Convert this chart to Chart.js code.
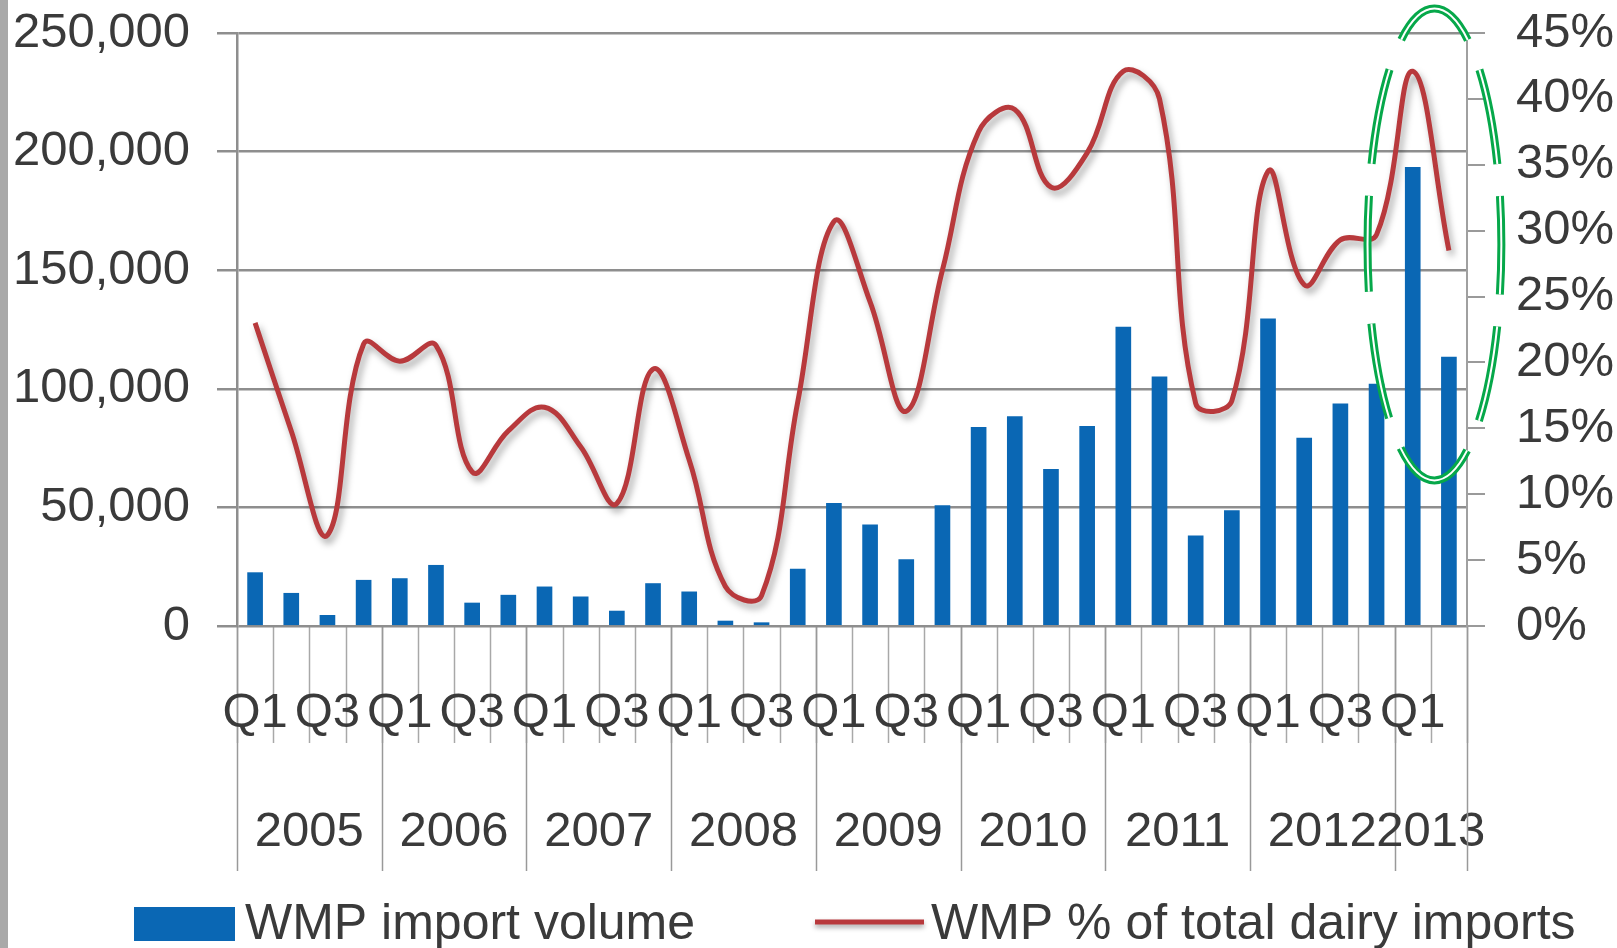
<!DOCTYPE html>
<html lang="en">
<head>
    <meta charset="UTF-8">
    <title>WMP imports</title>
    <script src="https://cdn.jsdelivr.net/npm/chart.js"></script>
    <style>
        html, body { margin: 0; padding: 0; background: #fff; }
        canvas { display: block; }
    </style>
</head>
<body>
    <canvas id="wmpChart" width="1617" height="948"></canvas>

    <script>
        // quarters 2005 Q1 .. 2013 Q2
        var years = ['2005', '2006', '2007', '2008', '2009', '2010', '2011', '2012', '2013'];
        var quartersPerYear = [4, 4, 4, 4, 4, 4, 4, 4, 2];
        var quarterLabels = [
            'Q1', 'Q2', 'Q3', 'Q4', 'Q1', 'Q2', 'Q3', 'Q4', 'Q1', 'Q2', 'Q3', 'Q4',
            'Q1', 'Q2', 'Q3', 'Q4', 'Q1', 'Q2', 'Q3', 'Q4', 'Q1', 'Q2', 'Q3', 'Q4',
            'Q1', 'Q2', 'Q3', 'Q4', 'Q1', 'Q2', 'Q3', 'Q4', 'Q1', 'Q2'
        ];
        // WMP import volume (left axis)
        var importVolume = [
            22500, 13800, 4500, 19300, 20000, 25600, 9700, 13000,
            16500, 12300, 6300, 17900, 14400, 2100, 1400, 24000,
            51700, 42600, 28000, 50800, 83800, 88300, 66000, 84200,
            126000, 105000, 38000, 48700, 129500, 79200, 93700, 102000,
            193400, 113400
        ];
        // WMP % of total dairy imports (right axis)
        var wmpShare = [
            23.0, 14.8, 6.9, 21.4, 20.1, 21.3, 11.7, 14.8,
            16.6, 13.6, 9.3, 19.5, 12.6, 3.0, 2.3, 17.0,
            30.7, 24.6, 16.3, 27.0, 37.5, 39.2, 33.3, 35.9,
            42.1, 40.0, 16.9, 17.1, 34.5, 25.9, 29.3, 29.7,
            42.1, 28.5
        ];
        var volumeMax = 250000, volumeStep = 50000;
        var shareMax = 45, shareStep = 5;
        var legendLabels = ['WMP import volume', 'WMP % of total dairy imports'];

        var FONT = 'Liberation Sans, Arial, sans-serif';
        var TEXT = '#3a3a3a';
        var BLUE = '#0a67b4';
        var RED = '#b8393c';

        // shadow under the red line
        var lineShadow = {
            id: 'lineShadow',
            beforeDatasetDraw: function (chart, args) {
                if (args.index !== 1) return;
                var ctx = chart.ctx;
                ctx.save();
                ctx.shadowColor = 'rgba(0,0,0,0.35)';
                ctx.shadowBlur = 7;
                ctx.shadowOffsetX = 3;
                ctx.shadowOffsetY = 5;
            },
            afterDatasetDraw: function (chart, args) {
                if (args.index !== 1) return;
                chart.ctx.restore();
            }
        };

        // background, quarter / year separators under the axis
        var axisExtras = {
            id: 'axisExtras',
            beforeDraw: function (chart) {
                var ctx = chart.ctx;
                var x = chart.scales.x;
                var area = chart.chartArea;
                ctx.save();
                ctx.fillStyle = '#fff';
                ctx.fillRect(0, 0, chart.width, chart.height);
                ctx.fillStyle = '#a9a9a9';
                ctx.fillRect(0, 0, 8, chart.height);

                // quarter tick lines
                ctx.strokeStyle = '#a8a8a8';
                ctx.lineWidth = 1.5;
                for (var i = 0; i <= quarterLabels.length; i++) {
                    var px = Math.round(x.getPixelForValue(i - 0.5)) + 0.5;
                    ctx.beginPath();
                    ctx.moveTo(px, area.bottom);
                    ctx.lineTo(px, area.bottom + 117);
                    ctx.stroke();
                }
                // year separators + year labels
                var start = 0;
                ctx.strokeStyle = '#999';
                ctx.font = '49px ' + FONT;
                ctx.fillStyle = TEXT;
                ctx.textAlign = 'center';
                ctx.textBaseline = 'middle';
                for (var y = 0; y <= years.length; y++) {
                    var bx = Math.round(x.getPixelForValue(start - 0.5)) + 0.5;
                    ctx.beginPath();
                    ctx.moveTo(bx, area.bottom);
                    ctx.lineTo(bx, area.bottom + 245);
                    ctx.stroke();
                    if (y < years.length) {
                        var mid = x.getPixelForValue(start - 0.5 + quartersPerYear[y] / 2);
                        ctx.fillText(years[y], mid, area.bottom + 206);
                        start += quartersPerYear[y];
                    }
                }
                ctx.restore();
            }
        };

        // legend and the highlight ellipse
        var overlay = {
            id: 'overlay',
            afterDraw: function (chart) {
                var ctx = chart.ctx;
                var x = chart.scales.x;
                var y1 = chart.scales.y1;
                ctx.save();

                // legend
                var ly = 924;
                ctx.fillStyle = BLUE;
                ctx.fillRect(134, ly - 17, 101, 34);
                ctx.font = '50px ' + FONT;
                ctx.fillStyle = TEXT;
                ctx.textAlign = 'left';
                ctx.textBaseline = 'middle';
                ctx.fillText(legendLabels[0], 245, ly + 1);

                ctx.save();
                ctx.shadowColor = 'rgba(0,0,0,0.35)';
                ctx.shadowBlur = 5;
                ctx.shadowOffsetY = 3;
                ctx.strokeStyle = RED;
                ctx.lineWidth = 5;
                ctx.beginPath();
                ctx.moveTo(815, ly - 2);
                ctx.lineTo(924, ly - 2);
                ctx.stroke();
                ctx.restore();
                ctx.fillText(legendLabels[1], 931, ly + 1);

                // dashed green ellipse around 2013 Q1
                var cx = x.getPixelForValue(32.6);
                var rx = x.getPixelForValue(32.6 + 1.85) - cx;
                var cy = y1.getPixelForValue(28.95);
                var ry = cy - y1.getPixelForValue(28.95 + 17.9);
                ctx.setLineDash([96, 32]);
                ctx.lineDashOffset = 46;
                ctx.strokeStyle = '#06a84a';
                ctx.lineWidth = 8;
                ctx.beginPath();
                ctx.ellipse(cx, cy, rx, ry, 0, 0, Math.PI * 2);
                ctx.stroke();
                ctx.strokeStyle = '#fff';
                ctx.lineWidth = 2;
                ctx.stroke();
                ctx.restore();
            }
        };

        // keep tick label overflow from shrinking the plot area
        function noLabelPadding(s) {
            s.paddingTop = 0;
            s.paddingBottom = 0;
        }

        var chartConfig = {
            data: {
                labels: quarterLabels,
                datasets: [{
                    type: 'bar',
                    label: legendLabels[0],
                    data: importVolume,
                    backgroundColor: BLUE,
                    barThickness: 15,
                    yAxisID: 'y',
                    order: 1
                }, {
                    type: 'line',
                    label: legendLabels[1],
                    data: wmpShare,
                    borderColor: RED,
                    borderWidth: 5,
                    pointRadius: 0,
                    tension: 0.4,
                    fill: false,
                    yAxisID: 'y1',
                    order: 0
                }]
            },
            options: {
                responsive: false,
                animation: false,
                devicePixelRatio: 1,
                layout: { padding: { left: 0, right: 0, top: 33, bottom: 62 } },
                plugins: {
                    legend: { display: false },
                    tooltip: { enabled: false }
                },
                scales: {
                    x: {
                        offset: true,
                        grid: { display: true, drawOnChartArea: false, drawTicks: false, color: 'transparent' },
                        border: { display: false },
                        ticks: {
                            autoSkip: false,
                            maxRotation: 0,
                            padding: 58,
                            color: TEXT,
                            font: { family: FONT, size: 49 },
                            callback: function (v, i) { return i % 2 === 0 ? quarterLabels[i] : ''; }
                        },
                        afterFit: function (s) { s.height = 260; s.paddingLeft = 0; s.paddingRight = 0; }
                    },
                    y: {
                        position: 'left',
                        min: 0,
                        max: volumeMax,
                        grid: { color: '#8e8e8e', lineWidth: 2.5, tickLength: 20 },
                        border: { display: true, color: '#8e8e8e', width: 2.5 },
                        ticks: {
                            stepSize: volumeStep,
                            padding: 27,
                            color: TEXT,
                            font: { family: FONT, size: 49 },
                            callback: function (v) { return v.toLocaleString('en-US'); }
                        },
                        afterFit: function (s) { s.width = 237; noLabelPadding(s); }
                    },
                    y1: {
                        position: 'right',
                        min: 0,
                        max: shareMax,
                        grid: { drawOnChartArea: false, color: '#9a9a9a', lineWidth: 2, tickLength: 18 },
                        border: { display: true, color: '#a0a0a0', width: 2 },
                        ticks: {
                            stepSize: shareStep,
                            padding: 31,
                            color: TEXT,
                            font: { family: FONT, size: 49 },
                            callback: function (v) { return v + '%'; }
                        },
                        afterFit: function (s) { s.width = 150; noLabelPadding(s); }
                    }
                }
            },
            plugins: [axisExtras, lineShadow, overlay]
        };

        var wmpChart = new Chart(document.getElementById('wmpChart'), chartConfig);
    </script>
</body>
</html>
